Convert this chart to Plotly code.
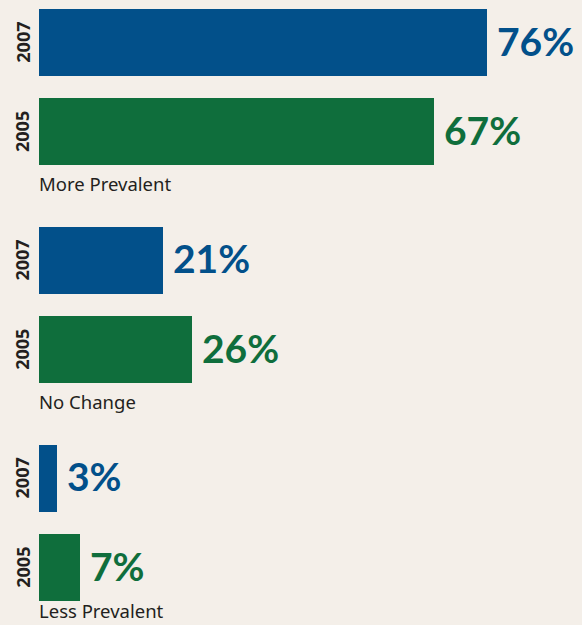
import plotly.graph_objects as go

categories = ["More Prevalent", "No Change", "Less Prevalent"]
years = ["2007", "2005"]
values_2007 = [76, 21, 3]
values_2005 = [67, 26, 7]

BLUE = "#02508a"
GREEN = "#0f6e3c"
BG = "#f4efe9"
DARK = "#231f20"

GROUP_STEP = 2.44
series = [("2007", values_2007, BLUE, 0), ("2005", values_2005, GREEN, 1)]

fig = go.Figure()
annotations = []
for year, vals, color, s in series:
    ys = [g * GROUP_STEP + s for g in range(len(categories))]
    fig.add_trace(go.Bar(
        x=vals, y=ys, orientation="h", marker=dict(color=color, line=dict(width=0)),
        width=0.75, showlegend=False, hoverinfo="skip"))
    for v, y in zip(vals, ys):
        annotations.append(dict(
            x=v, y=y, xref="x", yref="y", text=f"{v}%", showarrow=False,
            xanchor="left", yanchor="middle", xshift=8, yshift=2,
            font=dict(family="Lato", size=39, color=color, weight=700)))
        annotations.append(dict(
            x=-0.031, y=y, xref="paper", yref="y", text=year, showarrow=False,
            xanchor="center", yanchor="middle", textangle=-90,
            font=dict(family="Open Sans", size=18, color=DARK, weight=700)))

for g, cat in enumerate(categories):
    y = g * GROUP_STEP + 1 + 0.6
    last = g == len(categories) - 1
    annotations.append(dict(
        x=0, y=y, xref="x", yref="y", text=cat, showarrow=False,
        xanchor="left", yanchor="middle", xshift=-2, yshift=11 if last else 2,
        font=dict(family="Noto Sans", size=18.5, color=DARK)))

px_per_unit = 89.3
ymin = -42.5 / px_per_unit
ymax = ymin + 625 / px_per_unit

fig.update_layout(
    width=582, height=625,
    margin=dict(l=39, r=0, t=0, b=0),
    paper_bgcolor=BG, plot_bgcolor=BG,
    bargap=0,
    xaxis=dict(range=[0, 543 / 5.9], visible=False, fixedrange=True),
    yaxis=dict(range=[ymax, ymin], visible=False, fixedrange=True),
    annotations=annotations,
)

fig.write_html("out.html")
